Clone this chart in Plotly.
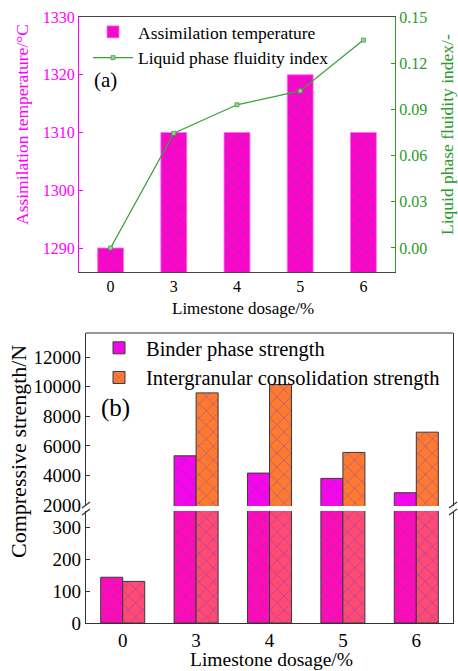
import plotly.graph_objects as go

# ---- data ----
dosage = ["0", "3", "4", "5", "6"]
assim_temp = [1290, 1310, 1310, 1320, 1310]
fluidity = [0.000, 0.0745, 0.093, 0.102, 0.135]
binder = [143, 5330, 4160, 3800, 2830]
intergranular = [130, 9590, 10150, 5560, 6930]

W, H = 458, 671
def px(x): return x / W
def py(y): return 1 - y / H

FONT = "Liberation Serif"
MAG = "#FF00FF"
GRN = "#2A9A2A"
HATCH = "#5A3CE6"

fig = go.Figure()

# ---- top chart (a) ----
fig.add_trace(go.Bar(
    x=dosage, y=assim_temp, name="Assimilation temperature",
    xaxis="x", yaxis="y", width=0.41,
    marker=dict(color="#FF06C4", line=dict(color="#FF70FF", width=0.8),
                pattern=dict(shape="x", fgcolor=HATCH, size=9, solidity=0.12, fgopacity=0.85)),
    legend="legend"))
fig.add_trace(go.Scatter(
    x=dosage, y=fluidity, name="Liquid phase fluidity index",
    xaxis="x", yaxis="y2", mode="lines+markers",
    line=dict(color="#3AA03A", width=1.3),
    marker=dict(symbol="square", size=4, color="#9AD29A", line=dict(color="#3AA03A", width=0.8)),
    legend="legend"))

# ---- bottom chart (b): broken axis, two segments ----
b_up_col, b_lo_col = "#F806E8", "#FF0CB4"
i_up_col, i_lo_col = "#FF7A2E", "#FF4A72"
for yax, bc, ic, show in [("y3", b_lo_col, i_lo_col, False), ("y4", b_up_col, i_up_col, True)]:
    fig.add_trace(go.Bar(
        x=dosage, y=binder, name="Binder phase strength", xaxis="x2", yaxis=yax,
        offsetgroup="b", showlegend=show, legend="legend2",
        marker=dict(color=bc, line=dict(color="#3a3a3a", width=1),
                    pattern=dict(shape="x", fgcolor=HATCH, size=10, solidity=0.1, fgopacity=0.8))))
    fig.add_trace(go.Bar(
        x=dosage, y=intergranular, name="Intergranular consolidation strength", xaxis="x2", yaxis=yax,
        offsetgroup="i", showlegend=show, legend="legend2",
        marker=dict(color=ic, line=dict(color="#3a3a3a", width=1),
                    pattern=dict(shape="x", fgcolor=HATCH, size=10, solidity=0.1, fgopacity=0.8))))

fig.update_layout(
    width=W, height=H, margin=dict(l=0, r=0, t=0, b=0, autoexpand=False),
    paper_bgcolor="white", plot_bgcolor="white",
    font=dict(family=FONT, color="black"),
    barmode="group", bargap=0.4, bargroupgap=0,
    xaxis=dict(domain=[px(79), px(395)], anchor="y", type="category", automargin=False,
               showline=True, linecolor="#444", linewidth=1, mirror=True,
               ticks="", tickfont=dict(size=16, color="black", family=FONT), showgrid=False),
    yaxis=dict(domain=[py(272), py(17)], anchor="x", range=[1285.85, 1330], automargin=False,
               tickvals=[1290, 1300, 1310, 1320, 1330],
               showline=True, linecolor=MAG, linewidth=1.2, ticks="inside", ticklen=4,
               tickcolor=MAG, tickfont=dict(size=16, color=MAG, family=FONT),
               showgrid=False, zeroline=False),
    yaxis2=dict(overlaying="y", side="right", anchor="x", range=[-0.0156, 0.15], automargin=False,
                tickvals=[0.0, 0.03, 0.06, 0.09, 0.12, 0.15], tickformat=".2f",
                showline=True, linecolor=GRN, linewidth=1.2, ticks="inside", ticklen=4,
                tickcolor=GRN, tickfont=dict(size=16, color=GRN, family=FONT),
                showgrid=False, zeroline=False),
    xaxis2=dict(domain=[px(86), px(453)], anchor="y3", type="category", automargin=False,
                showline=True, linecolor="#333", linewidth=1.2, ticks="",
                tickfont=dict(size=19, color="black", family=FONT), showgrid=False),
    yaxis3=dict(domain=[py(623), py(511)], anchor="x2", range=[0, 350], automargin=False,
                tickvals=[0, 100, 200, 300], showline=True, linecolor="#333", linewidth=1.2,
                mirror=True, ticks="inside", ticklen=4, tickcolor="#333",
                tickfont=dict(size=19, family=FONT), showgrid=False, zeroline=False),
    yaxis4=dict(domain=[py(506), py(333)], anchor="x2", range=[1932, 13645], automargin=False,
                tickvals=[2000, 4000, 6000, 8000, 10000, 12000], tickformat="d",
                showline=True, linecolor="#333",
                linewidth=1.2, mirror=True, ticks="inside", ticklen=4, tickcolor="#333",
                tickfont=dict(size=19, family=FONT), showgrid=False, zeroline=False),
    legend=dict(x=px(88), y=py(14), xanchor="left", yanchor="top", bgcolor="rgba(0,0,0,0)",
                font=dict(size=17.5, family=FONT), itemwidth=40, tracegroupgap=0),
    legend2=dict(x=px(92), y=py(328), xanchor="left", yanchor="top", bgcolor="rgba(0,0,0,0)",
                 font=dict(size=20.5, family=FONT), itemwidth=44, tracegroupgap=0),
    showlegend=True,
)

ann = [
    dict(text="(a)", x=px(92), y=py(80), xanchor="left", font=dict(size=21)),
    dict(text="(b)", x=px(99), y=py(408), xanchor="left", font=dict(size=25)),
    dict(text="Assimilation temperature/°C", x=px(22), y=py(125), textangle=-90,
         font=dict(size=17.5, color=MAG)),
    dict(text="Liquid phase fluidity index/-", x=px(447), y=py(135), textangle=-90,
         font=dict(size=17.5, color=GRN)),
    dict(text="Limestone dosage/%", x=px(243), y=py(308), font=dict(size=17)),
    dict(text="Compressive strength/N", x=px(18), y=py(452), textangle=-90, font=dict(size=22)),
    dict(text="Limestone dosage/%", x=px(271), y=py(659), font=dict(size=19.5)),
]
for a in ann:
    a.update(xref="paper", yref="paper", showarrow=False, yanchor="middle")
    a.setdefault("xanchor", "center")
    a["font"].setdefault("family", FONT)
    a["font"].setdefault("color", "black")
fig.update_layout(annotations=ann)

shapes = [
    # top frame line of the upper segment of (b)
    dict(type="line", xref="paper", yref="paper", x0=px(86), x1=px(453), y0=py(333), y1=py(333),
         line=dict(color="#333", width=1.2)),
]
# break marks on both sides of (b)
for xc in (86, 453):
    for yc in (505, 512):
        shapes.append(dict(type="line", xref="paper", yref="paper",
                           x0=px(xc - 4), x1=px(xc + 4), y0=py(yc + 3), y1=py(yc - 3),
                           line=dict(color="#333", width=1.2)))
fig.update_layout(shapes=shapes)

fig.write_html("out.html")
